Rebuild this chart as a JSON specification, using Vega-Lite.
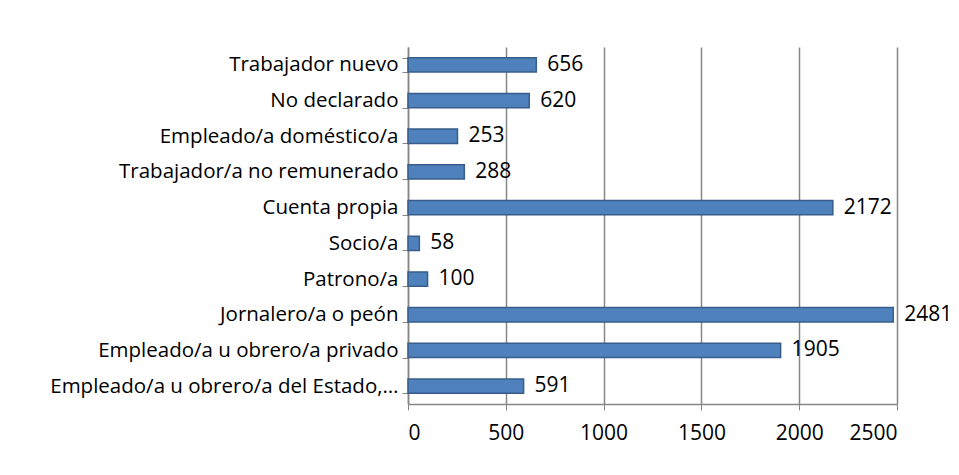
{
  "$schema": "https://vega.github.io/schema/vega-lite/v6.json",
  "width": 489,
  "height": 357,
  "autosize": {"type": "none"},
  "padding": {"left": 408, "top": 47, "right": 62, "bottom": 71},
  "background": "white",
  "config": {
    "view": {"stroke": null},
    "font": "Open Sans",
    "axis": {"labelFont": "Open Sans", "labelColor": "#000000"}
  },
  "data": {
    "values": [
      {"categoria": "Trabajador nuevo", "valor": 656},
      {"categoria": "No declarado", "valor": 620},
      {"categoria": "Empleado/a doméstico/a", "valor": 253},
      {"categoria": "Trabajador/a no remunerado", "valor": 288},
      {"categoria": "Cuenta propia", "valor": 2172},
      {"categoria": "Socio/a", "valor": 58},
      {"categoria": "Patrono/a", "valor": 100},
      {"categoria": "Jornalero/a o peón", "valor": 2481},
      {"categoria": "Empleado/a u obrero/a privado", "valor": 1905},
      {"categoria": "Empleado/a u obrero/a del Estado,…", "valor": 591}
    ]
  },
  "encoding": {
    "y": {
      "field": "categoria",
      "type": "nominal",
      "sort": null,
      "scale": {"paddingInner": 0.6, "paddingOuter": 0.3},
      "axis": {
        "title": null,
        "labelFontSize": 20.5,
        "labelPadding": 4,
        "tickBand": "extent",
        "domainColor": "#868686",
        "domainWidth": 1.5,
        "tickColor": "#868686",
        "tickSize": 6,
        "grid": false,
        "labelLimit": 420
      }
    },
    "x": {
      "field": "valor",
      "type": "quantitative",
      "scale": {"domain": [0, 2500], "nice": false},
      "axis": {
        "title": null,
        "values": [0, 500, 1000, 1500, 2000, 2500],
        "format": "d",
        "labelFontSize": 21,
        "labelPadding": 12,
        "grid": true,
        "gridColor": "#868686",
        "gridWidth": 1.5,
        "domainColor": "#868686",
        "domainWidth": 1.5,
        "tickColor": "#868686",
        "tickSize": 6
      }
    }
  },
  "layer": [
    {
      "mark": {"type": "bar", "color": "#4F81BD", "stroke": "#385D8A", "strokeWidth": 1.5}
    },
    {
      "mark": {"type": "text", "align": "left", "dx": 11, "fontSize": 21, "color": "#000000"},
      "encoding": {"text": {"field": "valor", "type": "quantitative"}}
    }
  ]
}
